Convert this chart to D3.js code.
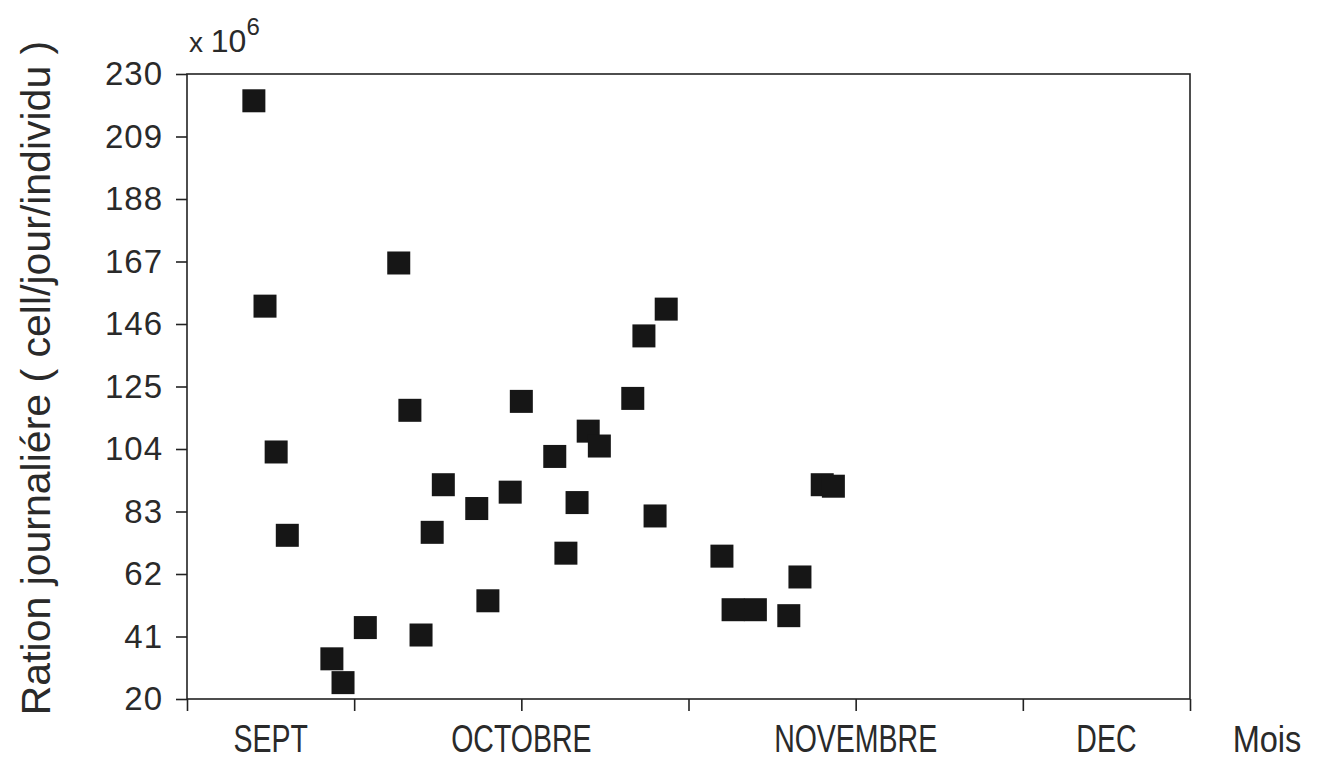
<!DOCTYPE html>
<html>
<head>
<meta charset="utf-8">
<script src="https://cdn.jsdelivr.net/npm/d3@7"></script>
<style>
  body { margin: 0; background: #fff; }
  text { font-family: "Liberation Sans", "DejaVu Sans", sans-serif; fill: #2a2a2a; }
</style>
</head>
<body>
<svg id="chart" width="1322" height="762"></svg>
<script>
// day index (days from start of axis) and daily ration (x 10^6 cells/day/individual)
var days   = [6, 7, 8, 9, 13, 14, 16, 19, 20, 21, 22, 23, 26, 27, 29, 30, 33, 34, 35, 36,
              37, 40, 41, 42, 43, 48, 49, 51, 54, 55, 57, 58];
var ration = [221, 152, 103, 75, 33.5, 25.5, 44, 166.5, 117, 41.5, 76, 92, 84, 53, 89.5, 120,
              101.5, 69, 86, 110, 105, 121, 142, 81.5, 151, 68, 50, 50, 48, 61, 92, 91.5];
var yTicks = [20, 41, 62, 83, 104, 125, 146, 167, 188, 209, 230];
var xTicks = [0, 15, 30, 45, 60, 75, 90];
var months = ["SEPT", "OCTOBRE", "NOVEMBRE", "DEC"];
var monthPos = [7.5, 30, 60, 82.5];

var svg = d3.select("#chart");
var chart = {left: 187, right: 1190, top: 74, bottom: 699};

var x = d3.scaleLinear().domain([0, 90]).range([chart.left, chart.right]);
var y = d3.scaleLinear().domain([20, 230]).range([chart.bottom, chart.top]);

// frame
svg.append("rect")
  .attr("x", chart.left).attr("y", chart.top)
  .attr("width", chart.right - chart.left).attr("height", chart.bottom - chart.top)
  .attr("fill", "none").attr("stroke", "#222").attr("stroke-width", 1.6);

// y axis
var yAxis = svg.append("g")
  .attr("transform", "translate(" + chart.left + ",0)")
  .call(d3.axisLeft(y).tickValues(yTicks).tickSize(11).tickPadding(13));
yAxis.select(".domain").remove();
yAxis.selectAll("line").attr("stroke", "#222").attr("stroke-width", 1.6);
yAxis.selectAll("text")
  .attr("font-size", 33).attr("font-family", "Liberation Sans")
  .attr("letter-spacing", 1).attr("fill", "#2a2a2a");

// x axis (ticks only, labels are months)
var xAxis = svg.append("g")
  .attr("transform", "translate(0," + chart.bottom + ")")
  .call(d3.axisBottom(x).tickValues(xTicks).tickSize(12).tickFormat(""));
xAxis.select(".domain").remove();
xAxis.selectAll("line").attr("stroke", "#222").attr("stroke-width", 1.6);

// month labels: tall, narrow capitals like the plotter font
svg.append("g").selectAll("text")
  .data(months).enter().append("text")
  .attr("transform", function(d, i) { return "translate(" + x(monthPos[i]) + ",752) scale(0.75,1)"; })
  .attr("text-anchor", "middle")
  .attr("font-size", 38)
  .text(function(d) { return d; });

svg.append("text")
  .attr("transform", "translate(1267,752) scale(0.88,1)")
  .attr("text-anchor", "middle")
  .attr("font-size", 37)
  .text("Mois");

// multiplier
var mult = svg.append("text").attr("x", 189).attr("y", 52).attr("font-size", 32);
mult.append("tspan").attr("font-size", 28).text("x ");
mult.append("tspan").text("10");
mult.append("tspan").attr("dy", -17).attr("font-size", 24).text("6");

// y title
svg.append("text")
  .attr("transform", "translate(50,378) rotate(-90)")
  .attr("text-anchor", "middle")
  .attr("font-size", 41)
  .text("Ration journaliére ( cell/jour/individu )");

// points
var sq = 23;
svg.append("g").selectAll("rect")
  .data(days).enter().append("rect")
  .attr("x", function(d) { return x(d) - sq / 2; })
  .attr("y", function(d, i) { return y(ration[i]) - sq / 2; })
  .attr("width", sq).attr("height", sq)
  .attr("fill", "#161616");
</script>
</body>
</html>
